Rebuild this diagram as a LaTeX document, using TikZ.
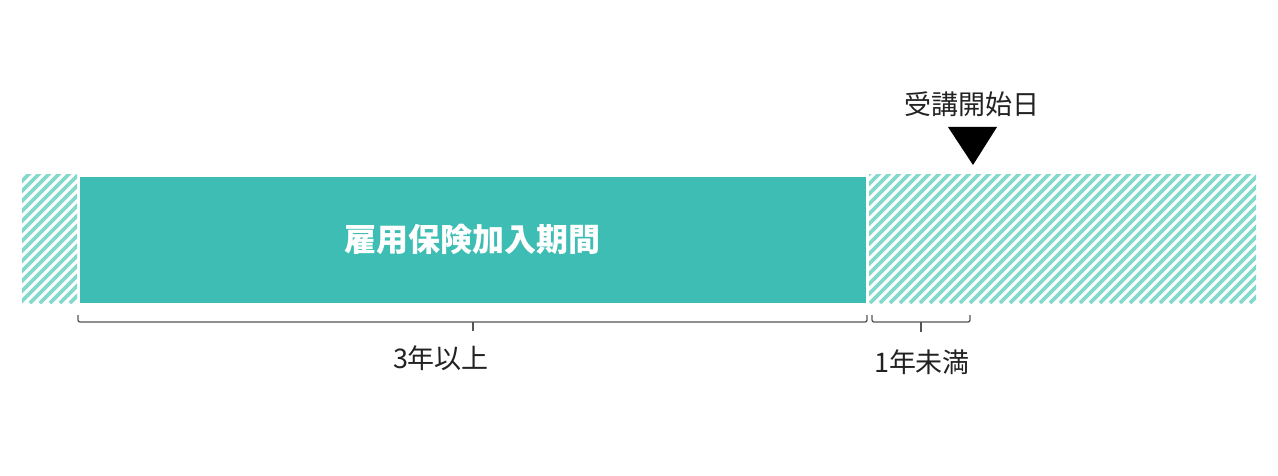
\documentclass[tikz,border=0pt]{standalone}
\usepackage{fontspec}
\newfontfamily\jp{Noto Sans CJK JP}
\definecolor{teal1}{HTML}{3DBDB3}
\definecolor{hatchc}{HTML}{84D9CD}
\definecolor{brk}{HTML}{555555}
\definecolor{txt}{HTML}{222222}
\begin{document}
\begin{tikzpicture}[x=1pt,y=-1pt,
  hatchline/.style={hatchc,line width=3.6pt},
  bracestyle/.style={brk,line width=1.3pt,rounded corners=2pt},
  lbl/.style={font={\jp\fontsize{27pt}{27pt}\selectfont},inner sep=0pt,text=txt}]
\useasboundingbox[fill=white] (0,0) rectangle (1278,476);
% left hatched
\begin{scope}
\clip (22,175) rectangle (77,303);
\foreach \i in {0,...,22} \draw[hatchline] ({-120+\i*10},303) -- ++(140,-140);
\end{scope}
% right hatched
\begin{scope}
\clip (869,175) rectangle (1256,303);
\foreach \i in {0,...,56} \draw[hatchline] ({730+\i*10},303) -- ++(140,-140);
\end{scope}
% teal box
\node[fill=teal1,minimum width=786pt,minimum height=126pt,inner sep=0pt,anchor=north west] (period) at (80,177) {};
\node[font={\jp\bfseries\fontsize{32pt}{32pt}\selectfont},text=white,inner sep=0pt] (plabel) at (472,239) {雇用保険加入期間};
% start marker
\node[lbl] (start) at (972,104) {受講開始日};
\fill[black] (948,127) -- (997,127) -- (973,165) -- cycle;
% brackets
\draw[bracestyle] (78,315) -- (78,322) -- (867,322) -- (867,315);
\draw[brk,line width=1.3pt] (473,322) -- (473,331);
\draw[bracestyle] (872,315) -- (872,322) -- (970,322) -- (970,315);
\draw[brk,line width=1.3pt] (921,322) -- (921,332);
\node[lbl] (three) at (441,358) {3年以上};
\node[lbl] (one) at (922,362) {1年未満};
\end{tikzpicture}
\end{document}
